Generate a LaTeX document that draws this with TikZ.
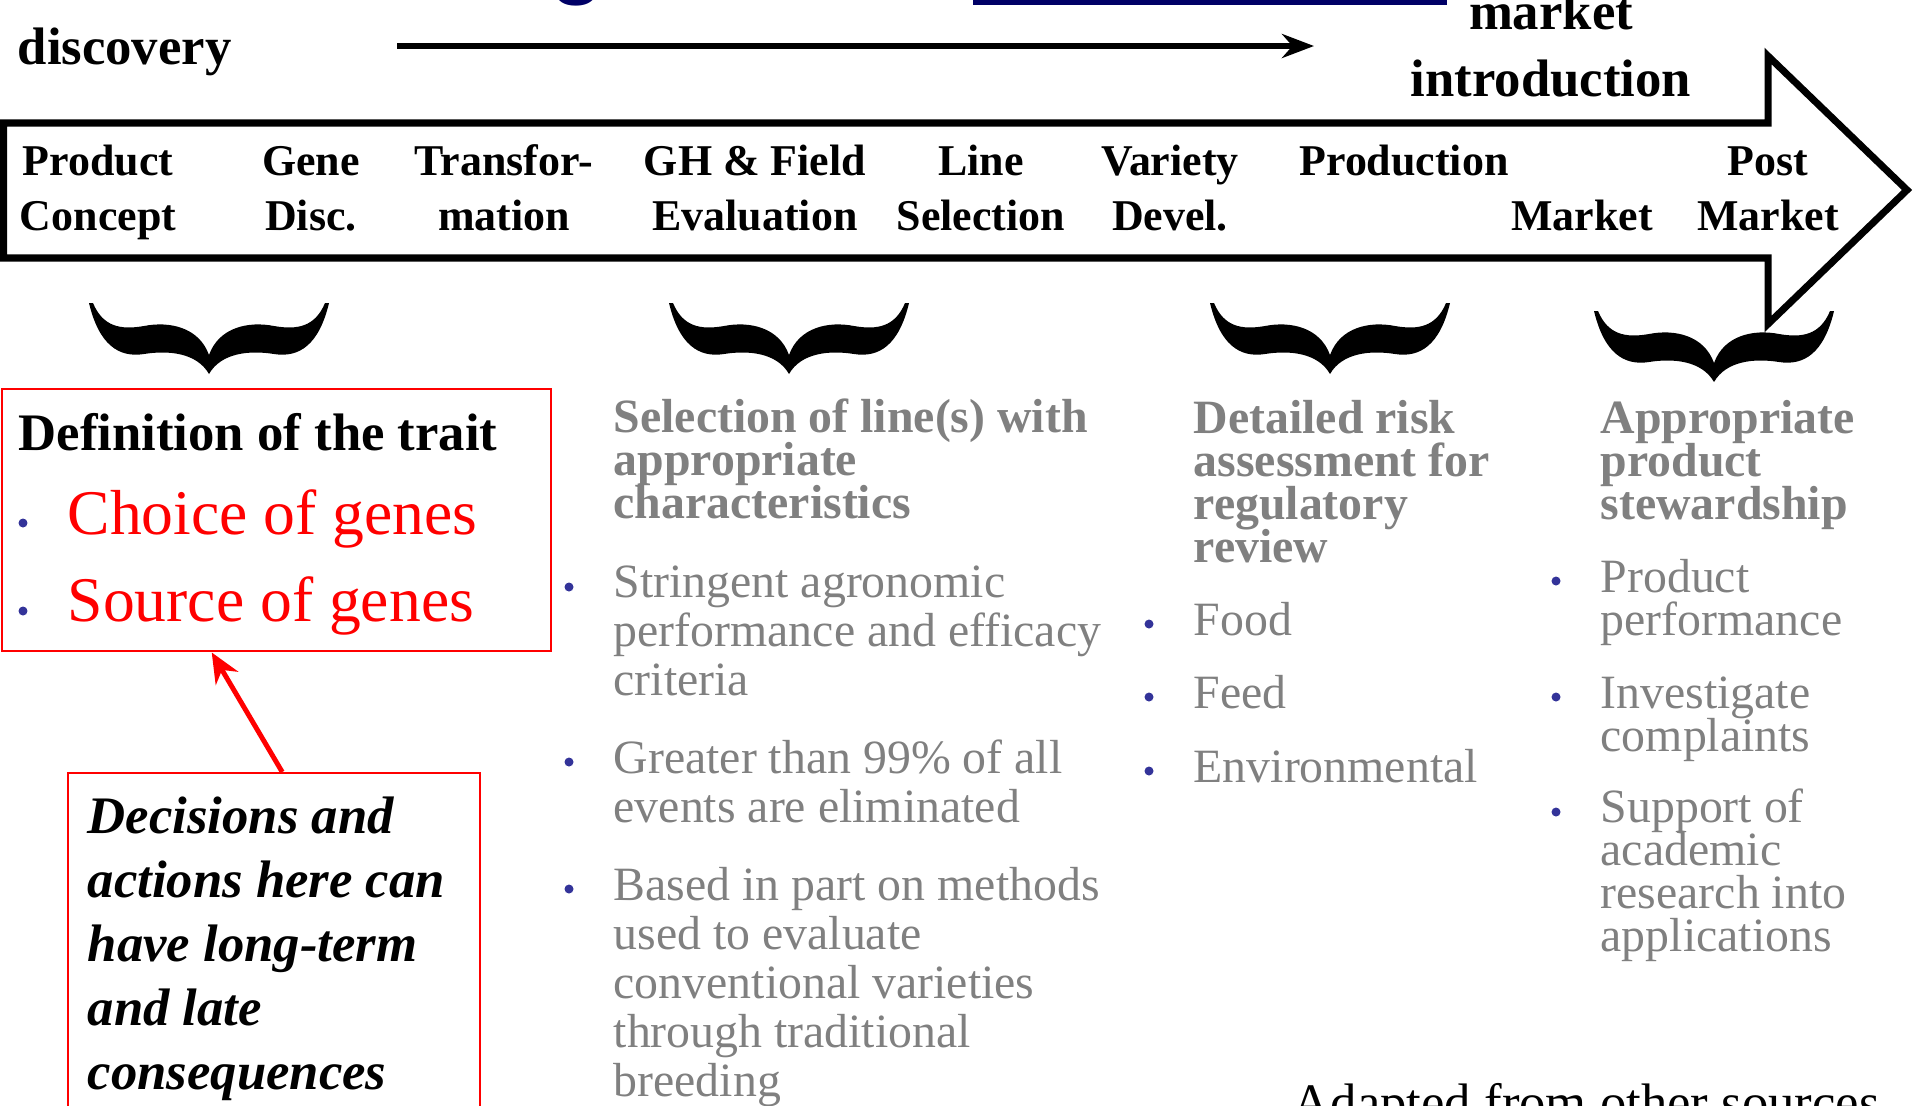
\documentclass[tikz,border=0pt]{standalone}
\usepackage{fontspec}
\setmainfont{Liberation Serif}
\setsansfont{Liberation Sans}
\usetikzlibrary{arrows.meta,positioning}
\definecolor{titleblue}{RGB}{0,0,102}
\definecolor{bulletblue}{RGB}{51,51,153}
\definecolor{textgray}{RGB}{128,128,128}
\newcommand{\tightlines}{\lineskiplimit=-20pt\relax}

\begin{document}
\begin{tikzpicture}[
    stage/.style={font=\fontsize{12.5}{15.6}\selectfont\bfseries, align=center, anchor=base},
    big/.style={font=\fontsize{15}{19}\selectfont\bfseries, inner sep=0pt},
    head/.style={font=\fontsize{13.6}{12.2}\selectfont\tightlines\bfseries,
        text=textgray, align=left, anchor=base west, inner sep=0pt},
    item/.style={font=\fontsize{13.6}{13.9}\selectfont, text=textgray,
        align=left, anchor=base west, inner sep=0pt},
    tightitem/.style={item, font=\fontsize{13.6}{12.2}\selectfont\tightlines},
    dot/.style={circle, fill=bulletblue, inner sep=0pt, minimum size=0.09cm},
    redbox/.style={draw=red, line width=0.7pt, inner sep=0pt, anchor=north west},
    bigarrow/.style={draw=black, line width=2pt, line join=miter},
    toparr/.style={-{Stealth[length=3.2mm, width=2.4mm]}, line width=1.8pt},
    redarr/.style={-{Stealth[length=3mm, width=2.6mm]}, red, line width=1.4pt},
    cbrace/.pic={
        \fill (-1.20,0) .. controls (-1.10,-0.42) and (-0.90,-0.55) .. (-0.65,-0.51)
            .. controls (-0.40,-0.47) and (-0.12,-0.50) .. (0,-0.71)
            .. controls (0.12,-0.50) and (0.40,-0.47) .. (0.65,-0.51)
            .. controls (0.90,-0.55) and (1.10,-0.42) .. (1.20,0)
            -- (1.16,0) .. controls (1.06,-0.24) and (0.88,-0.27) .. (0.65,-0.23)
            .. controls (0.40,-0.18) and (0.10,-0.24) .. (0,-0.52)
            .. controls (-0.10,-0.24) and (-0.40,-0.18) .. (-0.65,-0.23)
            .. controls (-0.88,-0.27) and (-1.06,-0.24) .. (-1.16,0) -- cycle;
    }
]
    \useasboundingbox (0,0) rectangle (19.15,-11.05);

    % Title remnants at the top edge
    \node[font=\fontsize{25}{30}\selectfont\sffamily\bfseries, text=titleblue, anchor=base,
        inner sep=0pt] (ttl) at (5.77,0.13) {g};
    \fill[titleblue] (9.73,0) rectangle (14.47,-0.05);

    % Timeline: discovery -> market introduction
    \node[big, anchor=base west] (disc) at (0.17,-0.64) {discovery};
    \node[big, align=center, anchor=base] (intro) at (15.51,-0.96) {market\\introduction};
    \coordinate (d0) at (3.97,-0.46);
    \coordinate (d1) at (13.14,-0.46);
    \draw[toparr] (d0) -- (d1);

    % Big process arrow
    \draw[bigarrow] (0.035,-1.23) -- (17.68,-1.23) -- (17.68,-0.56) -- (19.07,-1.90)
        -- (17.68,-3.24) -- (17.68,-2.58) -- (0.035,-2.58) -- cycle;

    % Stages (base = last line)
    \node[stage] (s1) at (0.98,-2.30) {Product\\Concept};
    \node[stage] (s2) at (3.11,-2.30) {Gene\\Disc.};
    \node[stage] (s3) at (5.04,-2.30) {Transfor-\\mation};
    \node[stage] (s4) at (7.55,-2.30) {GH \& Field\\Evaluation};
    \node[stage] (s5) at (9.81,-2.30) {Line\\Selection};
    \node[stage] (s6) at (11.70,-2.30) {Variety\\Devel.};
    \node[stage] (s7) at (14.04,-1.75) {Production};
    \node[stage] (s8) at (15.82,-2.30) {Market};
    \node[stage] (s9) at (17.68,-2.30) {Post\\Market};

    % Braces
    \pic at (2.09,-3.03) {cbrace};
    \pic at (7.89,-3.03) {cbrace};
    \pic at (13.30,-3.03) {cbrace};
    \pic at (17.14,-3.11) {cbrace};

    % Trait definition box
    \node[redbox, minimum width=5.49cm, minimum height=2.62cm] (traitbox) at (0.01,-3.88) {};
    \node[big, anchor=base west] (trait) at (0.18,-4.50) {Definition of the trait};
    \node[dot] (tb1) at (0.23,-5.23) {};
    \node[font=\fontsize{18.1}{22}\selectfont, text=red, anchor=base west, inner sep=0pt]
        (choice) at (0.67,-5.34) {Choice of genes};
    \node[dot] (tb2) at (0.23,-6.11) {};
    \node[font=\fontsize{18.1}{22}\selectfont, text=red, anchor=base west, inner sep=0pt]
        (source) at (0.67,-6.21) {Source of genes};

    % Decisions box
    \node[redbox, minimum width=4.12cm, minimum height=3.6cm] (decbox) at (0.67,-7.72) {};
    \node[font=\fontsize{15}{18.2}\selectfont\bfseries\itshape, align=left, anchor=base west,
        inner sep=0pt] (dec) at (0.87,-10.89)
        {Decisions and\\actions here can\\have long-term\\and late\\consequences};
    \draw[redarr] ([xshift=0.08cm]decbox.north) -- ([xshift=-0.65cm]traitbox.south);

    % Line selection
    \node[head] (sel) at (6.13,-5.18) {Selection of line(s) with\\appropriate\\characteristics};
    \node[dot] (sd1) at (5.69,-5.87) {};
    \node[item] (sel1) at (6.13,-6.95) {Stringent agronomic\\performance and efficacy\\criteria};
    \node[dot] (sd2) at (5.69,-7.62) {};
    \node[item] (sel2) at (6.13,-8.22) {Greater than 99\% of all\\events are eliminated};
    \node[dot] (sd3) at (5.69,-8.89) {};
    \node[item] (sel3) at (6.13,-10.96)
        {Based in part on methods\\used to evaluate\\conventional varieties\\through traditional\\breeding};

    % Risk assessment
    \node[head] (risk) at (11.93,-5.62) {Detailed risk\\assessment for\\regulatory\\review};
    \node[dot] (rd1) at (11.49,-6.24) {};
    \node[item] (risk1) at (11.93,-6.35) {Food};
    \node[dot] (rd2) at (11.49,-6.97) {};
    \node[item] (risk2) at (11.93,-7.08) {Feed};
    \node[dot] (rd3) at (11.49,-7.71) {};
    \node[item] (risk3) at (11.93,-7.82) {Environmental};

    % Stewardship
    \node[head] (stew) at (16.00,-5.19) {Appropriate\\product\\stewardship};
    \node[dot] (wd1) at (15.56,-5.81) {};
    \node[tightitem] (stew1) at (16.00,-6.35) {Product\\performance};
    \node[dot] (wd2) at (15.56,-6.97) {};
    \node[tightitem] (stew2) at (16.00,-7.51) {Investigate\\complaints};
    \node[dot] (wd3) at (15.56,-8.12) {};
    \node[tightitem] (stew3) at (16.00,-9.51) {Support of\\academic\\research into\\applications};

    % Source note
    \node[font=\fontsize{15}{18}\selectfont, anchor=base west, inner sep=0pt] (note)
        at (12.92,-11.20) {Adapted from other sources};
\end{tikzpicture}
\end{document}
